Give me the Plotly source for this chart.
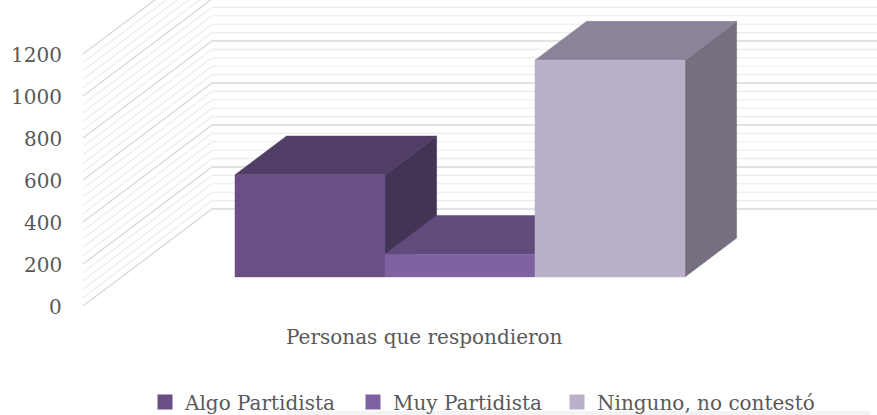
import plotly.graph_objects as go

# ---------------- data ----------------
category_label = "Personas que respondieron"
series_names = ["Algo Partidista", "Muy Partidista", "Ninguno, no contestó"]
series_values = [486, 108, 1032]
front_colors = ["#6A4F85", "#7F62A0", "#BAB0C9"]
top_colors = ["#513E66", "#614B7B", "#8B8399"]
side_colors = ["#433456", "#523F69", "#776E7F"]
tick_values = [0, 200, 400, 600, 800, 1000, 1200]
tick_labels = ["0", "200", "400", "600", "800", "1000", "1200"]
minor_step = 40

# ---------------- geometry (oblique 3D projection) ----------------
W, H = 877, 415
X_RANGE = [-1.8087, 4.038]     # category units
Y_RANGE = [-519.0, 1457.1]     # value units
DEPTH_X = 0.86                 # category-unit shift for full depth
DEPTH_Y = 461.9                # value-unit shift for full depth
WALL_U = -1.2553               # front edge of the side wall
BAR_D0, BAR_D1 = 0.30, 0.70    # bar depth slice
LEGEND_X_PX = [145, 353, 557]  # legend entry positions
FONT = "DejaVu Serif"
TXT = "#595959"


def proj(u, v, d):
    return u + DEPTH_X * d, v + DEPTH_Y * d


fig = go.Figure()

# gridlines on side wall + back wall
t = 0
ymax = tick_values[-1]
while t <= ymax:
    major = (t % 200 == 0)
    x0, y0 = proj(WALL_U, t, 0)
    x1, y1 = proj(WALL_U, t, 1)
    fig.add_trace(go.Scatter(
        x=[x0, x1, X_RANGE[1] + 1], y=[y0, y1, y1], mode="lines",
        line=dict(color="#D9D9D9" if major else "#EBEBEB", width=1.4 if major else 1.1),
        hoverinfo="skip", showlegend=False))
    t += minor_step

legend_names = ["legend", "legend2", "legend3"]

# bars (left to right, side -> top -> front)
for i, (name, val) in enumerate(zip(series_names, series_values)):
    ul, ur = i - 0.5, i + 0.5
    faces = [
        ([proj(ur, 0, BAR_D0), proj(ur, 0, BAR_D1), proj(ur, val, BAR_D1), proj(ur, val, BAR_D0)], side_colors[i]),
        ([proj(ul, val, BAR_D0), proj(ur, val, BAR_D0), proj(ur, val, BAR_D1), proj(ul, val, BAR_D1)], top_colors[i]),
        ([proj(ul, 0, BAR_D0), proj(ur, 0, BAR_D0), proj(ur, val, BAR_D0), proj(ul, val, BAR_D0)], front_colors[i]),
    ]
    for pts, col in faces:
        fig.add_trace(go.Scatter(
            x=[p[0] for p in pts] + [pts[0][0]], y=[p[1] for p in pts] + [pts[0][1]],
            fill="toself", fillcolor=col, mode="lines", line=dict(color=col, width=0.5),
            name=name, hovertemplate=f"{name}: {val}<extra></extra>", showlegend=False))
    # legend entry
    fig.add_trace(go.Scatter(x=[None], y=[None], mode="markers", name=name,
                             marker=dict(symbol="square", size=15, color=front_colors[i]),
                             showlegend=True, legend=legend_names[i]))

# tick labels along the front edge of the side wall
for tv, tl in zip(tick_values, tick_labels):
    fig.add_annotation(x=WALL_U, y=tv, xref="x", yref="y", text=tl, showarrow=False,
                       xanchor="right", yanchor="middle", xshift=-19, yshift=-1,
                       font=dict(family=FONT, size=20, color=TXT))

# category axis label
fig.add_annotation(x=424 / W, y=1 - 337 / H, xref="paper", yref="paper", text=category_label,
                   showarrow=False, xanchor="center", yanchor="middle",
                   font=dict(family=FONT, size=20, color=TXT))

fig.add_shape(type="rect", xref="paper", yref="paper", x0=287 / W, x1=870 / W, y0=0, y1=4 / H,
              fillcolor="#F3F3F3", line=dict(width=0), layer="below")

legend_style = dict(orientation="h", xanchor="left", y=1 - 402 / H, yanchor="middle",
                    font=dict(family=FONT, size=20, color=TXT), itemsizing="trace",
                    bgcolor="rgba(0,0,0,0)")

fig.update_layout(
    width=W, height=H, margin=dict(l=0, r=0, t=0, b=0, autoexpand=False),
    paper_bgcolor="white", plot_bgcolor="white",
    xaxis=dict(range=X_RANGE, visible=False, fixedrange=True),
    yaxis=dict(range=Y_RANGE, visible=False, fixedrange=True),
    showlegend=True,
    **{ln: dict(legend_style, x=px / W) for ln, px in zip(legend_names, LEGEND_X_PX)},
)

fig.write_html("out.html", config={"displayModeBar": False},
               post_script="document.body.style.margin='0';")
